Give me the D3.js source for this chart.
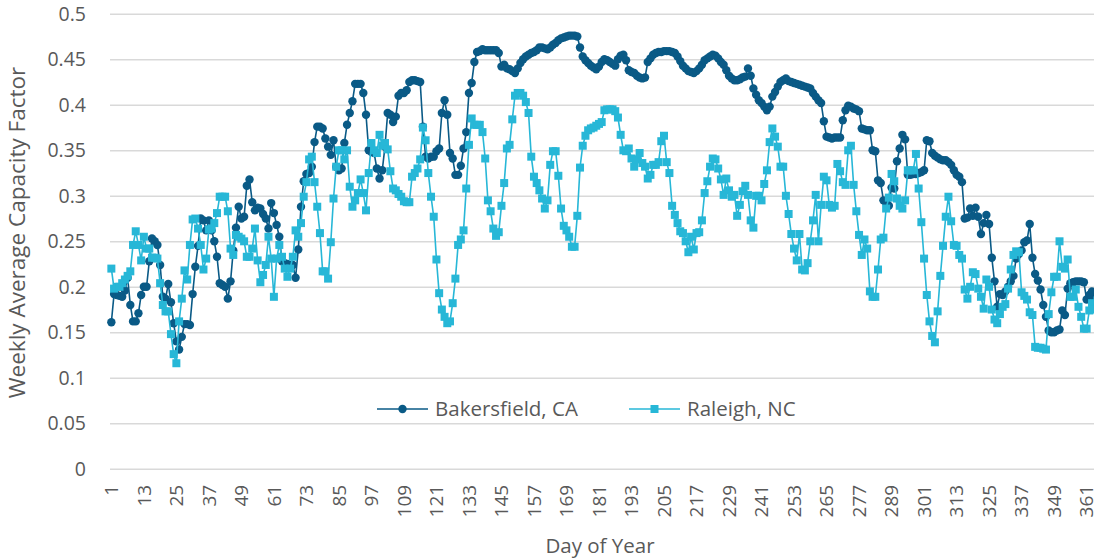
<!DOCTYPE html>
<html>
<head>
<meta charset="utf-8">
<script src="https://cdn.jsdelivr.net/npm/d3@7"></script>
<style>
	body { margin: 0; background: #fff; }
	text { font-family: "Open Sans", Lato, sans-serif; fill: #595959; }
</style>
</head>
<body>
<div id="chart"></div>
<script>
// Day of year categories
const days = d3.range(1, 366)

// Weekly average capacity factor, one value per day
const bakersfield = [
	0.161, 0.192, 0.191, 0.190, 0.189, 0.196, 0.210, 0.180, 0.162, 0.162,
	0.171, 0.191, 0.200, 0.200, 0.228, 0.253, 0.250, 0.246, 0.224, 0.189,
	0.187, 0.203, 0.183, 0.160, 0.140, 0.131, 0.145, 0.159, 0.159, 0.158,
	0.192, 0.222, 0.245, 0.275, 0.273, 0.262, 0.273, 0.262, 0.250, 0.233,
	0.204, 0.202, 0.200, 0.187, 0.206, 0.240, 0.265, 0.288, 0.275, 0.277,
	0.311, 0.318, 0.293, 0.284, 0.287, 0.286, 0.280, 0.275, 0.264, 0.292,
	0.281, 0.268, 0.255, 0.228, 0.226, 0.225, 0.224, 0.224, 0.210, 0.241,
	0.288, 0.316, 0.324, 0.325, 0.332, 0.359, 0.376, 0.376, 0.374, 0.363,
	0.354, 0.345, 0.361, 0.332, 0.328, 0.330, 0.358, 0.378, 0.391, 0.404,
	0.423, 0.423, 0.423, 0.413, 0.389, 0.350, 0.348, 0.347, 0.330, 0.319,
	0.328, 0.354, 0.391, 0.389, 0.381, 0.387, 0.410, 0.413, 0.413, 0.416,
	0.425, 0.427, 0.427, 0.426, 0.425, 0.376, 0.343, 0.341, 0.343, 0.343,
	0.349, 0.352, 0.391, 0.405, 0.389, 0.347, 0.341, 0.323, 0.323, 0.333,
	0.352, 0.370, 0.413, 0.424, 0.447, 0.458, 0.459, 0.461, 0.460, 0.460,
	0.460, 0.460, 0.460, 0.457, 0.442, 0.444, 0.440, 0.439, 0.437, 0.435,
	0.440, 0.446, 0.450, 0.453, 0.455, 0.457, 0.458, 0.460, 0.463, 0.463,
	0.462, 0.461, 0.463, 0.466, 0.468, 0.471, 0.473, 0.474, 0.475, 0.476,
	0.476, 0.476, 0.475, 0.463, 0.453, 0.449, 0.446, 0.443, 0.441, 0.439,
	0.442, 0.447, 0.450, 0.449, 0.447, 0.445, 0.443, 0.450, 0.454, 0.455,
	0.449, 0.438, 0.436, 0.435, 0.432, 0.430, 0.429, 0.430, 0.447, 0.451,
	0.455, 0.457, 0.458, 0.458, 0.459, 0.459, 0.459, 0.458, 0.457, 0.453,
	0.448, 0.443, 0.440, 0.437, 0.436, 0.435, 0.437, 0.440, 0.444, 0.449,
	0.451, 0.453, 0.455, 0.454, 0.451, 0.447, 0.444, 0.438, 0.432, 0.429,
	0.427, 0.427, 0.428, 0.430, 0.431, 0.440, 0.432, 0.418, 0.411, 0.405,
	0.402, 0.398, 0.394, 0.398, 0.409, 0.414, 0.420, 0.425, 0.427, 0.429,
	0.426, 0.425, 0.424, 0.423, 0.422, 0.421, 0.420, 0.419, 0.418, 0.413,
	0.409, 0.405, 0.402, 0.382, 0.365, 0.364, 0.363, 0.364, 0.364, 0.364,
	0.383, 0.394, 0.399, 0.398, 0.396, 0.395, 0.393, 0.374, 0.373, 0.372,
	0.372, 0.350, 0.349, 0.317, 0.314, 0.295, 0.292, 0.289, 0.309, 0.308,
	0.338, 0.352, 0.367, 0.362, 0.323, 0.323, 0.324, 0.324, 0.325, 0.326,
	0.328, 0.361, 0.360, 0.347, 0.344, 0.342, 0.340, 0.339, 0.339, 0.337,
	0.334, 0.328, 0.323, 0.321, 0.315, 0.275, 0.276, 0.286, 0.278, 0.287,
	0.277, 0.258, 0.270, 0.279, 0.269, 0.232, 0.206, 0.178, 0.192, 0.191,
	0.195, 0.200, 0.206, 0.212, 0.231, 0.236, 0.240, 0.249, 0.251, 0.269,
	0.232, 0.214, 0.207, 0.197, 0.180, 0.167, 0.152, 0.150, 0.150, 0.152,
	0.153, 0.174, 0.169, 0.198, 0.204, 0.205, 0.206, 0.206, 0.206, 0.205,
	0.186, 0.191, 0.195, 0.186, 0.190
]

const raleigh = [
	0.220, 0.198, 0.200, 0.200, 0.204, 0.208, 0.212, 0.217, 0.246, 0.261,
	0.246, 0.229, 0.255, 0.242, 0.242, 0.232, 0.232, 0.231, 0.204, 0.180,
	0.173, 0.173, 0.148, 0.126, 0.116, 0.162, 0.187, 0.218, 0.208, 0.246,
	0.274, 0.275, 0.264, 0.246, 0.219, 0.231, 0.263, 0.264, 0.270, 0.281,
	0.299, 0.299, 0.299, 0.283, 0.242, 0.235, 0.257, 0.255, 0.253, 0.250,
	0.233, 0.233, 0.242, 0.264, 0.229, 0.205, 0.213, 0.224, 0.255, 0.231,
	0.189, 0.231, 0.246, 0.233, 0.220, 0.211, 0.220, 0.233, 0.262, 0.255,
	0.270, 0.299, 0.315, 0.340, 0.343, 0.315, 0.288, 0.259, 0.217, 0.217,
	0.209, 0.249, 0.297, 0.332, 0.350, 0.350, 0.340, 0.350, 0.310, 0.288,
	0.295, 0.303, 0.318, 0.303, 0.284, 0.325, 0.358, 0.350, 0.347, 0.367,
	0.355, 0.358, 0.351, 0.327, 0.308, 0.306, 0.302, 0.299, 0.294, 0.293,
	0.293, 0.321, 0.325, 0.330, 0.340, 0.375, 0.361, 0.325, 0.299, 0.277,
	0.230, 0.193, 0.175, 0.167, 0.160, 0.162, 0.182, 0.209, 0.246, 0.252,
	0.262, 0.308, 0.356, 0.385, 0.378, 0.378, 0.378, 0.370, 0.341, 0.295,
	0.283, 0.264, 0.256, 0.260, 0.289, 0.314, 0.352, 0.356, 0.384, 0.410,
	0.413, 0.413, 0.410, 0.403, 0.391, 0.343, 0.321, 0.314, 0.306, 0.297,
	0.286, 0.295, 0.334, 0.349, 0.349, 0.322, 0.286, 0.267, 0.262, 0.255,
	0.244, 0.244, 0.278, 0.331, 0.355, 0.366, 0.372, 0.374, 0.375, 0.377,
	0.379, 0.381, 0.394, 0.395, 0.395, 0.395, 0.393, 0.386, 0.367, 0.350,
	0.349, 0.352, 0.341, 0.332, 0.340, 0.347, 0.336, 0.332, 0.319, 0.323,
	0.334, 0.334, 0.337, 0.360, 0.366, 0.337, 0.325, 0.289, 0.279, 0.270,
	0.261, 0.259, 0.250, 0.238, 0.255, 0.241, 0.259, 0.260, 0.273, 0.303,
	0.316, 0.332, 0.341, 0.340, 0.330, 0.318, 0.301, 0.319, 0.306, 0.299,
	0.301, 0.278, 0.290, 0.305, 0.311, 0.301, 0.273, 0.265, 0.300, 0.300,
	0.295, 0.313, 0.328, 0.359, 0.374, 0.365, 0.354, 0.332, 0.332, 0.300,
	0.280, 0.258, 0.242, 0.229, 0.258, 0.219, 0.218, 0.226, 0.250, 0.273,
	0.301, 0.250, 0.290, 0.321, 0.317, 0.290, 0.287, 0.289, 0.335, 0.327,
	0.315, 0.312, 0.350, 0.355, 0.312, 0.283, 0.257, 0.235, 0.252, 0.242,
	0.195, 0.189, 0.189, 0.219, 0.252, 0.254, 0.286, 0.298, 0.324, 0.316,
	0.297, 0.289, 0.286, 0.295, 0.328, 0.328, 0.328, 0.346, 0.308, 0.271,
	0.231, 0.191, 0.162, 0.146, 0.139, 0.173, 0.212, 0.245, 0.277, 0.299,
	0.272, 0.246, 0.245, 0.235, 0.231, 0.197, 0.187, 0.200, 0.216, 0.214,
	0.198, 0.189, 0.176, 0.208, 0.200, 0.175, 0.164, 0.160, 0.170, 0.178,
	0.181, 0.198, 0.219, 0.235, 0.239, 0.238, 0.194, 0.190, 0.186, 0.172,
	0.169, 0.134, 0.133, 0.133, 0.132, 0.131, 0.170, 0.194, 0.211, 0.211,
	0.250, 0.222, 0.220, 0.230, 0.189, 0.189, 0.197, 0.178, 0.167, 0.154,
	0.154, 0.174, 0.182, 0.175, 0.185
]

const yTicks = [0, 0.05, 0.1, 0.15, 0.2, 0.25, 0.3, 0.35, 0.4, 0.45, 0.5]
const yTickLabels = ["0", "0.05", "0.1", "0.15", "0.2", "0.25", "0.3", "0.35", "0.4", "0.45", "0.5"]
const xTickDays = [1, 13, 25, 37, 49, 61, 73, 85, 97, 109, 121, 133, 145, 157, 169,
	181, 193, 205, 217, 229, 241, 253, 265, 277, 289, 301, 313, 325, 337, 349, 361]

const seriesNames = ["Bakersfield, CA", "Raleigh, NC"]
const seriesColors = ["#0a5a86", "#27b7d7"]

const width = 1094
const height = 560
const margin = { top: 13.8, left: 110, bottom: 91.2 }
const plotRight = 1098.8 // chart is cropped on the right in the original

const svg = d3.select("#chart")
	.append("svg")
	.attr("width", width)
	.attr("height", height)

const x = d3.scaleBand().domain(days).range([margin.left, plotRight])
const cx = (d) => x(d) + x.bandwidth() / 2
const y = d3.scaleLinear().domain([0, 0.5]).range([height - margin.bottom, margin.top])

// gridlines + y labels
const yAxis = svg.append("g")
	.attr("class", "y-axis")
	.attr("transform", `translate(${margin.left},0)`)
	.call(d3.axisLeft(y)
		.tickValues(yTicks)
		.tickFormat((d, i) => yTickLabels[i])
		.tickSizeInner(-(plotRight - margin.left))
		.tickSizeOuter(0)
		.tickPadding(24))
yAxis.select(".domain").remove()
yAxis.selectAll("line").attr("stroke", "#d9d9d9").attr("stroke-width", 1.5)
yAxis.selectAll("text").style("font-size", "19.5px").attr("fill", "#595959")

// x labels
const xAxis = svg.append("g")
	.attr("class", "x-axis")
	.attr("transform", `translate(0,${y(0)})`)
	.call(d3.axisBottom(x).tickValues(xTickDays).tickSize(0))
xAxis.select(".domain").remove()
xAxis.selectAll("text")
	.attr("transform", "rotate(-90)")
	.attr("x", -16)
	.attr("y", 0)
	.attr("dy", "0.35em")
	.attr("text-anchor", "end")
	.style("font-size", "19px")
	.attr("fill", "#595959")

// axis titles
svg.append("text")
	.attr("transform", "translate(25,232.5) rotate(-90)")
	.attr("text-anchor", "middle")
	.style("font-size", "22.5px")
	.text("Weekly Average Capacity Factor")

svg.append("text")
	.attr("x", 600)
	.attr("y", 553)
	.attr("text-anchor", "middle")
	.style("font-size", "20.5px")
	.text("Day of Year")

const line = d3.line()
	.x((d, i) => cx(days[i]))
	.y((d) => y(d))

// Bakersfield
svg.append("path")
	.datum(bakersfield)
	.attr("fill", "none")
	.attr("stroke", seriesColors[0])
	.attr("stroke-width", 1.6)
	.attr("d", line)

svg.append("g")
	.selectAll("circle")
	.data(bakersfield)
	.join("circle")
	.attr("cx", (d, i) => cx(days[i]))
	.attr("cy", (d) => y(d))
	.attr("r", 4.2)
	.attr("fill", seriesColors[0])

// Raleigh
svg.append("path")
	.datum(raleigh)
	.attr("fill", "none")
	.attr("stroke", seriesColors[1])
	.attr("stroke-width", 1.6)
	.attr("d", line)

svg.append("g")
	.selectAll("rect")
	.data(raleigh)
	.join("rect")
	.attr("x", (d, i) => cx(days[i]) - 4)
	.attr("y", (d) => y(d) - 4)
	.attr("width", 8)
	.attr("height", 8)
	.attr("fill", seriesColors[1])

// legend
const legendX = [377, 629]
const legend = svg.append("g").attr("transform", "translate(0,409)")
seriesNames.forEach((name, i) => {
	const row = legend.append("g").attr("transform", `translate(${legendX[i]},0)`)
	row.append("line")
		.attr("x1", 0)
		.attr("x2", 51)
		.attr("stroke", seriesColors[i])
		.attr("stroke-width", 1.6)
	if (i === 0) {
		row.append("circle").attr("cx", 25.5).attr("r", 4.2).attr("fill", seriesColors[i])
	} else {
		row.append("rect").attr("x", 21.5).attr("y", -4).attr("width", 8).attr("height", 8)
			.attr("fill", seriesColors[i])
	}
	row.append("text")
		.attr("x", 58)
		.attr("dy", "0.35em")
		.style("font-size", "20.5px")
		.text(name)
})
</script>
</body>
</html>
